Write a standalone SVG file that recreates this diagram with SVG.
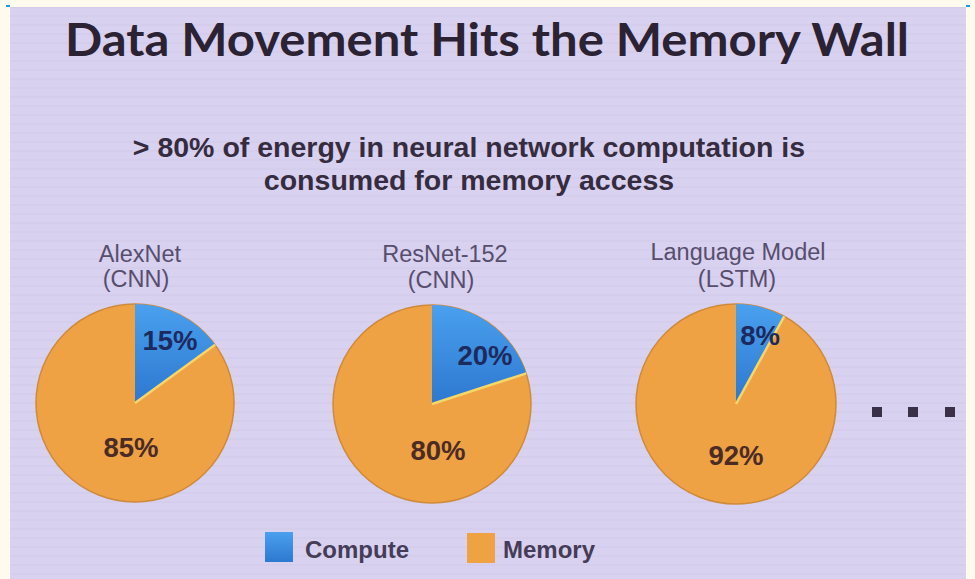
<svg xmlns="http://www.w3.org/2000/svg" width="975" height="579" viewBox="0 0 975 579">
  <defs>
    <style>
      .title { font-family: Lato, "Open Sans", sans-serif; font-weight: 700; font-size: 46px; fill: #2b2233; }
      .sub { font-family: "Liberation Sans", Arial, sans-serif; font-weight: 700; font-size: 28.5px; fill: #352c40; }
      .lbl { font-family: "Liberation Sans", Arial, sans-serif; font-size: 23.5px; fill: #574e6e; }
      .pct { font-family: "Liberation Sans", Arial, sans-serif; font-weight: 700; font-size: 27.5px; }
      .pc { fill: #1c2a5e; }
      .pm { fill: #4b2b25; }
      .leg { font-family: "Liberation Sans", Arial, sans-serif; font-weight: 700; font-size: 24px; fill: #453c58; }
      .mem { fill: #eea244; stroke: #cf8a3a; stroke-width: 1.5; }
      .cmp { fill: url(#blueFill); }
      .sep { stroke: #f4d66a; stroke-width: 2.5; fill: none; }
      .dot { fill: #3a3048; }
    </style>
    <linearGradient id="blueFill" x1="0" y1="0" x2="0" y2="1">
      <stop offset="0" stop-color="#4aa0ee"/>
      <stop offset="1" stop-color="#2d78d0"/>
    </linearGradient>
    <!-- faint horizontal banding of the slide background -->
    <pattern id="stripes" width="975" height="9" patternUnits="userSpaceOnUse">
      <rect width="975" height="9" fill="#d9d1f0"/>
      <rect y="6" width="975" height="2" fill="#d5cdec"/>
    </pattern>
  </defs>

  <!-- page and slide -->
  <rect width="975" height="579" fill="#fffaee"/>
  <rect x="10" y="7" width="956" height="572" fill="url(#stripes)"/>
  <rect x="6" y="5" width="4" height="2" fill="#1aa0e0"/>
  <rect x="966" y="5" width="4" height="2" fill="#1aa0e0"/>

  <!-- headings -->
  <text class="title" x="487" y="56" text-anchor="middle" textLength="844" lengthAdjust="spacingAndGlyphs">Data Movement Hits the Memory Wall</text>
  <text class="sub" x="469" y="157" text-anchor="middle">&gt; 80% of energy in neural network computation is</text>
  <text class="sub" x="469" y="190" text-anchor="middle">consumed for memory access</text>

  <!-- AlexNet -->
  <g id="pie-alexnet">
    <text class="lbl" x="140" y="262" text-anchor="middle">AlexNet</text>
    <text class="lbl" x="136" y="287" text-anchor="middle">(CNN)</text>
    <circle class="mem" cx="135" cy="403" r="99"/>
    <path class="cmp" d="M135,403 L135,304 A99,99 0 0 1 215.1,344.8 Z"/>
    <line class="sep" x1="135" y1="403" x2="215.1" y2="344.8"/>
    <text class="pct pc" x="170" y="350" text-anchor="middle">15%</text>
    <text class="pct pm" x="131" y="457" text-anchor="middle">85%</text>
  </g>

  <!-- ResNet-152 -->
  <g id="pie-resnet">
    <text class="lbl" x="445" y="262" text-anchor="middle">ResNet-152</text>
    <text class="lbl" x="441" y="288" text-anchor="middle">(CNN)</text>
    <circle class="mem" cx="432" cy="404" r="99"/>
    <path class="cmp" d="M432,404 L432,305 A99,99 0 0 1 526.2,373.4 Z"/>
    <line class="sep" x1="432" y1="404" x2="526.2" y2="373.4"/>
    <text class="pct pc" x="485" y="365" text-anchor="middle">20%</text>
    <text class="pct pm" x="438" y="460" text-anchor="middle">80%</text>
  </g>

  <!-- Language Model -->
  <g id="pie-lstm">
    <text class="lbl" x="738" y="260" text-anchor="middle">Language Model</text>
    <text class="lbl" x="737" y="287" text-anchor="middle">(LSTM)</text>
    <circle class="mem" cx="736" cy="404" r="100"/>
    <path class="cmp" d="M736,404 L736,304 A100,100 0 0 1 784.2,316.4 Z"/>
    <line class="sep" x1="736" y1="404" x2="784.2" y2="316.4"/>
    <text class="pct pc" x="760" y="345" text-anchor="middle">8%</text>
    <text class="pct pm" x="736" y="465" text-anchor="middle">92%</text>
  </g>

  <!-- ellipsis -->
  <g id="more">
    <rect class="dot" x="872" y="407" width="10" height="10"/>
    <rect class="dot" x="908" y="407" width="10" height="10"/>
    <rect class="dot" x="945" y="407" width="10" height="10"/>
  </g>

  <!-- legend -->
  <g id="legend">
    <rect x="265" y="532" width="28" height="30" fill="url(#blueFill)"/>
    <text class="leg" x="305" y="558">Compute</text>
    <rect x="467" y="533" width="28" height="30" fill="#eea244"/>
    <text class="leg" x="503" y="558">Memory</text>
  </g>
</svg>
